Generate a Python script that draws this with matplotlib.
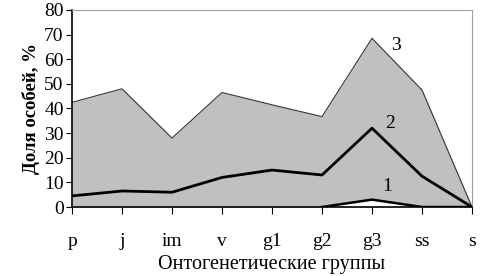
import numpy as np
import matplotlib.pyplot as plt

plt.rcParams['font.family'] = ['Liberation Serif', 'DejaVu Serif']

groups = ['p', 'j', 'im', 'v', 'g1', 'g2', 'g3', 'ss', 's']
s3 = [42.5, 48, 28, 46.5, 41.5, 36.7, 68.5, 47.5, 0]
s2 = [4.5, 6.5, 6, 12, 15, 13, 32, 12.5, 0]
s1 = [np.nan, np.nan, np.nan, np.nan, np.nan, 0, 3, 0, 0]

x = np.arange(len(groups))

fig = plt.figure(figsize=(4.86, 2.76), dpi=100)
ax = fig.add_axes([72/486, 1 - 207/276, 400/486, 197/276])

ax.fill_between(x, 0, s3, color='#c0c0c0', lw=0)
ax.plot(x, s3, color='#333333', lw=0.8)
ax.plot(x, s2, color='black', lw=2)
s1a = np.array(s1)
ax.fill_between(x, 0, np.nan_to_num(s1a), where=~np.isnan(s1a), color='white', lw=0)
ax.plot(x, s1, color='black', lw=1.8)

ax.text(6.48, 65.5, '3', fontsize=14, ha='center', va='center')
ax.text(6.36, 34, '2', fontsize=14, ha='center', va='center')
ax.text(6.3, 8.5, '1', fontsize=14, ha='center', va='center')

ax.set_xlim(0, 8)
ax.set_ylim(0, 80)
ax.set_yticks(range(0, 81, 10))
ax.set_xticks(x)
ax.set_xticklabels(groups)
ax.tick_params(axis='x', direction='out', length=5, pad=14, labelsize=14)
ax.tick_params(axis='y', direction='out', length=4, pad=2, labelsize=14)
for sp in ['top', 'right']:
    ax.spines[sp].set_color('#a0a0a0')
ax.spines['left'].set_linewidth(1.2)
ax.spines['bottom'].set_linewidth(1.2)

ax.set_ylabel('Доля особей, %', fontsize=13.5, fontweight='bold', labelpad=3)
ax.set_xlabel('Онтогенетические группы', fontsize=14.5, labelpad=3)

fig.savefig('out.png', dpi=100)
